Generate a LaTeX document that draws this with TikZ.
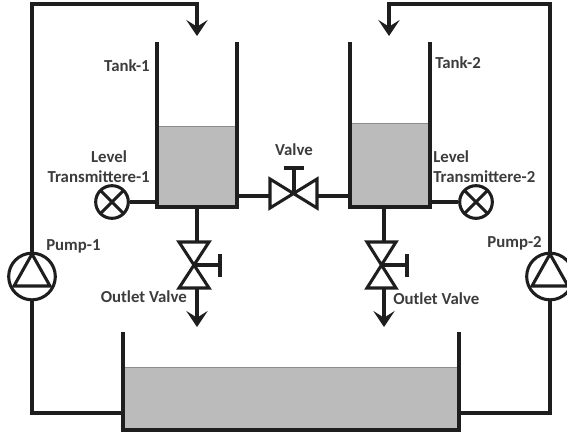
\documentclass[tikz,border=0pt]{standalone}
\usepackage{fontspec}
\setmainfont{Carlito}
\usetikzlibrary{arrows.meta}
\definecolor{pipeblack}{HTML}{1E1E1E}
\definecolor{liquidgray}{HTML}{BBBBBB}
\definecolor{labelgray}{HTML}{3C3C3C}
\tikzset{
  pipe/.style={line width=2.3pt, draw=pipeblack, line join=miter},
  feed/.style={pipe, -{Stealth[length=12pt, width=16pt, inset=5pt]}},
  liquid/.style={fill=liquidgray, draw=gray!90, line width=0.5pt},
  transmitter/.style={shape=circle, pipe, minimum size=24.5pt, inner sep=0pt, path picture={
    \draw[pipe] (path picture bounding box.north west) -- (path picture bounding box.south east);
    \draw[pipe] (path picture bounding box.north east) -- (path picture bounding box.south west);}},
  pump/.style={shape=circle, pipe, minimum size=35pt, inner sep=0pt},
  tag/.style={font=\fontsize{12.6}{14}\selectfont\bfseries, text=labelgray, inner sep=0pt},
}
\begin{document}
\begin{tikzpicture}[x=0.75pt, y=-0.75pt]
\useasboundingbox (0,0) rectangle (567,433);

\fill[liquid] (157,126) rectangle (237,207);
\fill[liquid] (350,123) rectangle (430,207);
\fill[liquid] (123,367) rectangle (459,430);
\draw[liquid] (157,126) -- (237,126);
\draw[liquid] (350,123) -- (430,123);
\draw[liquid] (123,367) -- (459,367);

\draw[pipe] (157,42) -- (157,207) -- (237,207) -- (237,42);
\draw[pipe] (350,42) -- (350,207) -- (430,207) -- (430,42);
\draw[pipe] (123,332) -- (123,430) -- (459,430) -- (459,332);

\coordinate (tank1in) at (197,36);
\coordinate (tank2in) at (389,36);
\coordinate (tank1out) at (197,207);
\coordinate (tank2out) at (384,207);
\coordinate (tank1side) at (157,202);
\coordinate (tank2side) at (430,202);
\coordinate (tank1right) at (237,196);
\coordinate (tank2left) at (350,196);
\coordinate (sump1) at (123,413);
\coordinate (sump2) at (459,413);
\coordinate (drop1) at (197,327);
\coordinate (drop2) at (384,327);

\node[pump] (pump1) at (32,276.5) {};
\node[pump] (pump2) at (550,276.5) {};
\node[transmitter] (level1) at (112,202) {};
\node[transmitter] (level2) at (476,202) {};

\draw[pipe] (14,286) -- (50,286) -- (32,254) -- cycle;
\draw[pipe] (532,286) -- (568,286) -- (550,254) -- cycle;

\coordinate (valveL) at (270,196);
\coordinate (valveR) at (316,196);
\draw[pipe] (270,179) -- (317,208) -- (317,179) -- (270,208) -- cycle;
\draw[pipe] (294,193.5) -- (294,168);
\draw[pipe] (284,168) -- (304,168);

\coordinate (outlet1top) at (197,242);
\coordinate (outlet1bot) at (197,288);
\draw[pipe] (179,242) -- (209,242) -- (179,288) -- (209,288) -- cycle;
\draw[pipe] (194,265) -- (220,265);
\draw[pipe] (220,254) -- (220,277);

\coordinate (outlet2top) at (384,242);
\coordinate (outlet2bot) at (384,288);
\draw[pipe] (367,242) -- (396,242) -- (367,288) -- (396,288) -- cycle;
\draw[pipe] (381.5,265) -- (407,265);
\draw[pipe] (407,254) -- (407,277);

\draw[feed] (pump1.north) |- (197,4) -- (tank1in);
\draw[feed] (pump2.north) |- (389,4) -- (tank2in);
\draw[pipe] (pump1.south) |- (sump1);
\draw[pipe] (pump2.south) |- (sump2);
\draw[pipe] (level1) -- (tank1side);
\draw[pipe] (level2) -- (tank2side);
\draw[pipe] (tank1right) -- (valveL);
\draw[pipe] (valveR) -- (tank2left);
\draw[pipe] (tank1out) -- (outlet1top);
\draw[pipe] (tank2out) -- (outlet2top);
\draw[feed] (outlet1bot) -- (drop1);
\draw[feed] (outlet2bot) -- (drop2);

\node[tag, anchor=east] (tank1tag) at (150,66) {Tank-1};
\node[tag, anchor=west] (tank2tag) at (435,63) {Tank-2};
\node[tag] (level1tag) at (109,157) {Level};
\node[tag, anchor=east] (trans1tag) at (150,177) {Transmittere-1};
\node[tag, anchor=west] (level2tag) at (433,157) {Level};
\node[tag, anchor=west] (trans2tag) at (433,177) {Transmittere-2};
\node[tag] (valvetag) at (294,150) {Valve};
\node[tag, anchor=west] (pump1tag) at (46,246) {Pump-1};
\node[tag, anchor=east] (pump2tag) at (542,243) {Pump-2};
\node[tag, anchor=east] (out1tag) at (187,297) {Outlet Valve};
\node[tag, anchor=west] (out2tag) at (393,299) {Outlet Valve};
\end{tikzpicture}
\end{document}
